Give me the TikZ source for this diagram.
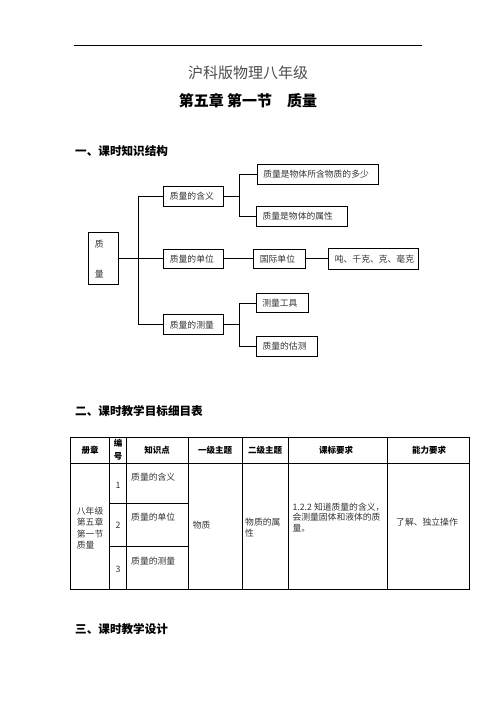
\documentclass[tikz,border=0pt]{standalone}
\usepackage{fontspec}
\setmainfont{Noto Sans CJK SC}
\tikzset{
  kbox/.style={draw, line width=1.1pt, inner xsep=6pt, inner ysep=0pt, align=left,
    anchor=north west, font=\fontsize{8.8}{10.5}\selectfont, text=black!80},
  txt/.style={inner sep=0pt, font=\fontsize{8.8}{10.5}\selectfont, text=black!80},
  hd/.style={inner sep=0pt, align=center, font=\fontsize{8.5}{12.7}\selectfont\bfseries},
  sec/.style={inner sep=0pt, anchor=west, font=\fontsize{11.6}{14}\selectfont\bfseries},
}
\begin{document}
\begin{tikzpicture}[x=1pt,y=-1pt]
\useasboundingbox (0,0) rectangle (496,702);
\draw[line width=.8pt] (74,45) -- (422,45);
\node[inner sep=0pt, font=\fontsize{15}{18}\selectfont, text=black!70] (sub) at (248,73) {沪科版物理八年级};
\node[inner sep=0pt, font=\fontsize{15}{18}\selectfont\bfseries] (ttl) at (248,101) {第五章 第一节　质量};
\node[sec] (s1) at (75,151) {一、课时知识结构};
% knowledge tree
\node[kbox, text width=18pt, minimum height=52pt] (zl) at (88.3,232.3) {质\\[20pt]量};
\node[kbox, text width=48pt, minimum height=20pt] (hy) at (163.3,186) {质量的含义};
\node[kbox, text width=109pt, minimum height=20pt] (hy1) at (256.7,164) {质量是物体所含物质的多少};
\node[kbox, text width=79pt, minimum height=19.5pt] (hy2) at (256,206) {质量是物体的属性};
\node[kbox, text width=48pt, minimum height=19pt] (dw) at (163.3,248.8) {质量的单位};
\node[kbox, text width=40pt, minimum height=19pt] (gj) at (253.3,248.8) {国际单位};
\node[kbox, text width=78pt, minimum height=21.5pt] (dwz) at (328.3,247.55) {吨、千克、克、毫克};
\node[kbox, text width=48pt, minimum height=20pt] (cl) at (163.3,314.3) {质量的测量};
\node[kbox, text width=40.6pt, minimum height=19pt] (cl1) at (255.7,293.3) {测量工具};
\node[kbox, text width=48.7pt, minimum height=20pt] (cl2) at (256,335.7) {质量的估测};
\begin{scope}[line width=1.1pt]
\draw (zl.east) -- (dw.west);
\draw (hy.west) -- ++(-24.6,0) |- (cl.west);
\draw (hy.east) -- ++(15,0) coordinate (bh) |- (hy1.west) (bh) |- (hy2.west);
\draw (dw.east) -- (gj.west);
\draw (gj.east) -- (dwz.west);
\draw (cl.east) -- ++(15,0) coordinate (bc) |- (cl1.west) (bc) |- (cl2.west);
\end{scope}
\node[sec] (s2) at (75,411) {二、课时教学目标细目表};
% table
\begin{scope}[line width=.9pt]
\draw (70.7,437.3) rectangle (469,589.3);
\draw (70.7,463.3) -- (469,463.3);
\foreach \x in {109.3,126.7,188.3,242,288,387}
\draw (\x,437.3) -- (\x,589.3);
\foreach \y in {503.3,546.7}
\draw (109.3,\y) -- (188.3,\y);
\end{scope}
\node[hd] (h1) at (90,450) {册章};
\node[hd] (h2) at (118,450) {编\\号};
\node[hd] (h3) at (157,450) {知识点};
\node[hd] (h4) at (215,450) {一级主题};
\node[hd] (h5) at (265,450) {二级主题};
\node[hd] (h6) at (336,450) {课标要求};
\node[hd] (h7) at (429,450) {能力要求};
\node[txt, anchor=west, align=left, font=\fontsize{8.8}{11.4}\selectfont] (ce) at (76.7,528) {八年级\\第五章\\第一节\\质量};
\foreach \y/\n in {485/1,525/2,569/3}
\node[txt] (n\n) at (118,\y) {\n};
\foreach \y/\t/\n in {476.7/含义/1,517.3/单位/2,560.7/测量/3}
\node[txt, anchor=west] (k\n) at (131,\y) {质量的\t};
\node[txt, anchor=west] (z1) at (192.7,525) {物质};
\node[txt, anchor=west, align=left] (z2) at (245,527.5) {物质的属\\性};
\node[txt, anchor=west, align=left] (kb) at (292.3,517.3) {1.2.2 知道质量的含义，\\会测量固体和液体的质\\量。};
\node[txt] (nl) at (427,522) {了解、独立操作};
\node[sec] (s3) at (75,629) {三、课时教学设计};
\end{tikzpicture}
\end{document}
